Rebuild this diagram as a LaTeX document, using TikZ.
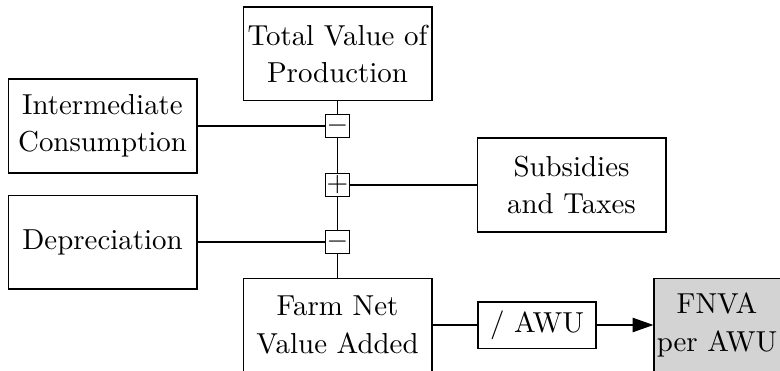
\documentclass[tikz,border=0pt]{standalone}
\usetikzlibrary{arrows.meta}
\definecolor{resultgray}{RGB}{211,211,211}
\begin{document}
\begin{tikzpicture}[x=0.36pt,y=-0.36pt,
  every node/.style={font=\fontsize{10.4}{13.4}\selectfont, align=center},
  box/.style={draw, line width=0.4pt, minimum width=68pt, minimum height=33.8pt, inner sep=1pt},
  opbox/.style={draw, line width=0.4pt, minimum width=42.5pt, minimum height=16.6pt, inner sep=1pt},
  sign/.style={draw, line width=0.4pt, minimum width=8.6pt, minimum height=8.3pt, inner sep=0pt},
  result/.style={draw, fill=resultgray, line width=0.4pt, minimum width=45.4pt, minimum height=33.8pt, inner xsep=0.5pt},
  link/.style={line width=0.4pt},
  tip/.style={-{Triangle[length=7.5pt,width=5.2pt]}}]
  \useasboundingbox (0,0) rectangle (780,371);
  \clip (0,0) rectangle (780,371);

  % source and result boxes
  \node[box] (total) at (337.5,54) {Total Value of\\Production};
  \node[box] (inter) at (102.5,126) {Intermediate\\Consumption};
  \node[box] (subs)  at (571.5,185) {Subsidies\\and Taxes};
  \node[box] (dep)   at (102.5,242) {Depreciation};
  \node[box] (farm)  at (337.5,325) {Farm Net\\Value Added};
  \node[opbox] (awu) at (537,325) {/ AWU};
  \node[result] (fnva) at (717,325) {FNVA\\per AWU};

  % arithmetic operators on the main spine
  \node[sign] (m1) at (337.5,126) {$-$};
  \node[sign] (p1) at (337.5,185) {$+$};
  \node[sign] (m2) at (337.5,242) {$-$};

  % connectors
  \draw[link] (total) -- (m1) -- (p1) -- (m2) -- (farm);
  \draw[link] (inter) -- (m1);
  \draw[link] (p1) -- (subs);
  \draw[link] (dep) -- (m2);
  \draw[link] (farm) -- (awu);
  \draw[link, tip] (awu) -- (fnva);
\end{tikzpicture}
\end{document}
